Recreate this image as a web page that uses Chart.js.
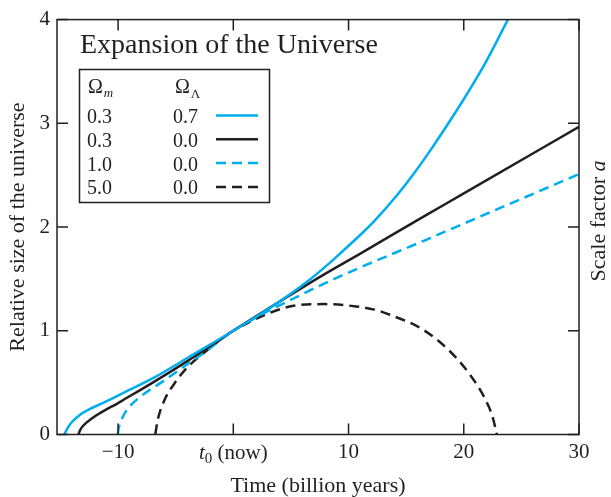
<!DOCTYPE html>
<html>
<head>
<meta charset="utf-8">
<script src="https://cdn.jsdelivr.net/npm/chart.js@4/dist/chart.umd.min.js"></script>
<style>
html, body { margin: 0; padding: 0; background: #fff; }
canvas { display: block; }
</style>
</head>
<body>
<canvas id="myChart" width="611" height="497"></canvas>
<script>
// values: time in billion years, relative size a

// Omega_m 0.3, Omega_L 0.7
var tLambda = [-14.66, -14.45, -14.0, -13.3, -12.64, -11.2, -9.74, -6.85, -3.96, 0, 3.59, 6.48, 8.37, 9.37, 11.26, 12.25, 14.15, 15.43, 17.04, 19.93, 21.96, 23.83];
var aLambda = [0, 0.05, 0.12, 0.19, 0.235, 0.31, 0.39, 0.55, 0.74, 1.0, 1.25, 1.48, 1.655, 1.755, 1.95, 2.06, 2.30, 2.48, 2.73, 3.22, 3.6, 4.0];

// Omega_m 0.3, Omega_L 0.0
var tOpen = [-13.44, -13.3, -13.07, -12.34, -9.74, -6.85, -3.96, 0, 6.48, 8.37, 10.8, 16.58, 19.93, 30];
var aOpen = [0, 0.04, 0.08, 0.15, 0.32, 0.51, 0.71, 1.0, 1.45, 1.575, 1.73, 2.105, 2.32, 2.967];

// Omega_m 1.0, Omega_L 0.0
var tFlat = [-10.03, -9.95, -9.75, -9.31, -8.0, -6.27, -3.96, -2.52, 0, 6.48, 8.37, 10.8, 16.58, 19.93, 30];
var aFlat = [0, 0.06, 0.13, 0.225, 0.37, 0.5, 0.68, 0.79, 1.0, 1.38, 1.48, 1.6, 1.87, 2.03, 2.51];

// Omega_m 5.0, Omega_L 0.0
var tClosed = [-6.77, -6.56, -5.98, -5.12, -3.96, -2.52, -0.5, 0, 3.12, 5.44, 7.92, 10.64, 12.25, 13.53, 16.42, 18.73, 20.47, 21.91, 22.5, 22.87];
var aClosed = [0, 0.14, 0.33, 0.49, 0.65, 0.79, 0.965, 1.0, 1.17, 1.245, 1.257, 1.235, 1.204, 1.157, 1.014, 0.81, 0.587, 0.33, 0.17, 0];

var omegaM = ['0.3', '0.3', '1.0', '5.0'];
var omegaL = ['0.7', '0.0', '0.0', '0.0'];

var xTicks = [-10, 0, 10, 20, 30];
var yTicks = [0, 1, 2, 3, 4];

var cyan = '#00aeef';
var ink = '#231f20';
var serif = '"Liberation Serif", "Times New Roman", serif';

function pts(t, a) {
  return t.map(function (v, i) { return { x: v, y: a[i] }; });
}

function curve(t, a, color, dashed) {
  return {
    data: pts(t, a),
    borderColor: color,
    borderWidth: 2.5,
    borderDash: dashed ? [10, 6] : [],
    pointRadius: 0,
    fill: false,
    cubicInterpolationMode: 'monotone'
  };
}

// box, inward ticks, t0 label, right title and the legend table
var extras = {
  id: 'extras',
  afterDatasetsDraw: function (chart) {
    var ctx = chart.ctx, ca = chart.chartArea;
    var sx = chart.scales.x, sy = chart.scales.y;
    ctx.save();
    ctx.strokeStyle = ink;
    ctx.fillStyle = ink;
    ctx.lineWidth = 1.5;
    ctx.setLineDash([]);
    ctx.strokeRect(ca.left, ca.top, ca.right - ca.left, ca.bottom - ca.top);

    ctx.beginPath();
    xTicks.forEach(function (v) {
      var px = sx.getPixelForValue(v);
      ctx.moveTo(px, ca.bottom); ctx.lineTo(px, ca.bottom - 11);
      ctx.moveTo(px, ca.top); ctx.lineTo(px, ca.top + 11);
    });
    yTicks.forEach(function (v) {
      var py = sy.getPixelForValue(v);
      ctx.moveTo(ca.left, py); ctx.lineTo(ca.left + 11, py);
      ctx.moveTo(ca.right, py); ctx.lineTo(ca.right - 11, py);
    });
    ctx.stroke();

    // t0 (now)
    ctx.textBaseline = 'alphabetic';
    ctx.textAlign = 'left';
    var base = 459;
    ctx.font = 'italic 21px ' + serif;
    var wt = ctx.measureText('t').width;
    ctx.font = '15px ' + serif;
    var w0 = ctx.measureText('0').width;
    ctx.font = '21px ' + serif;
    var wn = ctx.measureText(' (now)').width;
    var x0 = sx.getPixelForValue(0) - (wt + w0 + wn) / 2;
    ctx.font = 'italic 21px ' + serif;
    ctx.fillText('t', x0, base);
    ctx.font = '15px ' + serif;
    ctx.fillText('0', x0 + wt, base + 4);
    ctx.font = '21px ' + serif;
    ctx.fillText(' (now)', x0 + wt + w0, base);

    // right axis title
    ctx.save();
    ctx.translate(605, 221);
    ctx.rotate(-Math.PI / 2);
    ctx.font = '22px ' + serif;
    var ws = ctx.measureText('Scale factor ').width;
    ctx.font = 'italic 22px ' + serif;
    var wa = ctx.measureText('a').width;
    var sx0 = -(ws + wa) / 2;
    ctx.font = '22px ' + serif;
    ctx.fillText('Scale factor ', sx0, 0);
    ctx.font = 'italic 22px ' + serif;
    ctx.fillText('a', sx0 + ws, 0);
    ctx.restore();

    // legend
    ctx.font = '28px ' + serif;
    ctx.fillText('Expansion of the Universe', 80, 53);
    ctx.lineWidth = 1.5;
    ctx.strokeRect(79.5, 69.5, 190, 133);

    ctx.font = '20px ' + serif;
    var wO = ctx.measureText('\u03a9').width;
    ctx.fillText('\u03a9', 88, 93);
    ctx.fillText('\u03a9', 175, 93);
    ctx.font = 'italic 13px ' + serif;
    ctx.fillText('m', 88 + wO + 1, 97);
    ctx.font = '13px ' + serif;
    ctx.fillText('\u039b', 175 + wO + 1, 98);

    chart.data.datasets.forEach(function (ds, i) {
      var yb = 123 + i * 23.8;
      ctx.font = '20px ' + serif;
      ctx.fillStyle = ink;
      ctx.fillText(omegaM[i], 87, yb);
      ctx.fillText(omegaL[i], 173, yb);
      ctx.beginPath();
      ctx.strokeStyle = ds.borderColor;
      ctx.lineWidth = ds.borderWidth;
      ctx.setLineDash(ds.borderDash);
      ctx.moveTo(216, yb - 7.5);
      ctx.lineTo(258, yb - 7.5);
      ctx.stroke();
    });
    ctx.restore();
  }
};

var ctx = document.getElementById('myChart').getContext('2d');

var myChart = new Chart(ctx, {
  type: 'line',
  data: {
    datasets: [
      curve(tLambda, aLambda, cyan, false),
      curve(tOpen, aOpen, ink, false),
      curve(tFlat, aFlat, cyan, true),
      curve(tClosed, aClosed, ink, true)
    ]
  },
  options: {
    responsive: false,
    animation: false,
    devicePixelRatio: 1,
    layout: { padding: { top: 14, left: 0, right: 0, bottom: 0 } },
    plugins: { legend: { display: false }, tooltip: { enabled: false } },
    scales: {
      x: {
        type: 'linear',
        min: -15.3,
        max: 30,
        afterFit: function (s) { s.height = 62.5; },
        afterBuildTicks: function (s) { s.ticks = xTicks.map(function (v) { return { value: v }; }); },
        grid: { display: false, drawTicks: false },
        border: { display: false },
        ticks: {
          padding: 5,
          color: ink,
          maxRotation: 0,
          font: { family: serif, size: 21 },
          callback: function (v) { return v === 0 ? '' : (v < 0 ? '\u2212' + Math.abs(v) : '' + v); }
        },
        title: {
          display: true,
          text: 'Time (billion years)',
          color: ink,
          font: { family: serif, size: 22, lineHeight: 1 },
          padding: { top: 0, bottom: 0 }
        }
      },
      y: {
        type: 'linear',
        position: 'left',
        min: 0,
        max: 4,
        afterFit: function (s) { s.width = 57; },
        afterBuildTicks: function (s) { s.ticks = yTicks.map(function (v) { return { value: v }; }); },
        grid: { display: false, drawTicks: false },
        border: { display: false },
        ticks: { padding: 7, color: ink, font: { family: serif, size: 21 } },
        title: {
          display: true,
          text: 'Relative size of the universe',
          color: ink,
          font: { family: serif, size: 22, lineHeight: 1 },
          padding: { top: 7, bottom: 0 }
        }
      },
      y2: {
        type: 'linear',
        position: 'right',
        min: 0,
        max: 4,
        afterFit: function (s) { s.width = 32; },
        grid: { display: false, drawTicks: false },
        border: { display: false },
        ticks: { display: false }
      }
    }
  },
  plugins: [extras]
});
</script>
</body>
</html>
